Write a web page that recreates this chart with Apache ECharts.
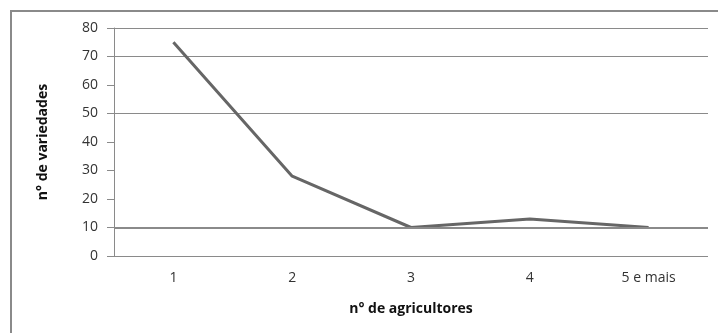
<!DOCTYPE html>
<html>
<head>
<meta charset="utf-8">
<script src="https://cdn.jsdelivr.net/npm/echarts@6/dist/echarts.min.js"></script>
<style>
  html, body { margin: 0; padding: 0; background: #fff; overflow: hidden; }
  .frame { position: absolute; left: 10px; top: 10px; width: 730px; height: 340px; border: 2px solid #8a8a8a; box-sizing: border-box; }
  #chart { position: absolute; left: 0; top: 0; width: 718px; height: 333px; }
</style>
</head>
<body>
<div class="frame"></div>
<div id="chart"></div>
<script>
const categories = ['1', '2', '3', '4', '5 e mais']
const variedades = [75, 28, 10, 13, 10]
const yTicks = [0, 10, 20, 30, 40, 50, 60, 70, 80]
// only some gridlines survive in the reference picture
const gridShown = [0, 10, 50, 70, 80]

const chart = echarts.init(document.getElementById('chart'))
chart.setOption({
  animation: false,
  textStyle: { fontFamily: 'Open Sans' },
  grid: { left: 114, right: 10, top: 28, bottom: 77 },
  xAxis: {
    type: 'category',
    data: categories,
    boundaryGap: true,
    name: 'n° de agricultores',
    nameLocation: 'middle',
    nameGap: 46,
    nameTextStyle: { color: '#111', fontSize: 14, fontWeight: 'bold' },
    axisLine: { show: false },
    axisTick: { show: false },
    splitLine: { show: false },
    axisLabel: { color: '#333', fontSize: 14, margin: 15 }
  },
  yAxis: {
    type: 'value',
    min: 0,
    max: 80,
    interval: 10,
    name: 'n° de variedades',
    nameLocation: 'middle',
    nameGap: 64,
    nameTextStyle: { color: '#111', fontSize: 14, fontWeight: 'bold' },
    axisLine: { show: true, lineStyle: { color: '#8a8a8a', width: 1 } },
    axisTick: { show: true, length: 7, lineStyle: { color: '#8a8a8a' } },
    axisLabel: { color: '#333', fontSize: 14, margin: 16 },
    splitLine: {
      show: true,
      lineStyle: {
        width: 1,
        color: yTicks.map(v => gridShown.includes(v) ? '#8a8a8a' : 'rgba(0,0,0,0)')
      }
    }
  },
  series: [{
    type: 'line',
    data: variedades,
    symbol: 'none',
    lineStyle: { color: '#666666', width: 3 },
    markLine: {
      silent: true,
      symbol: 'none',
      label: { show: false },
      lineStyle: { color: '#8a8a8a', width: 2, type: 'solid' },
      data: [{ yAxis: 10 }]
    },
    z: 3
  }]
})
</script>
</body>
</html>
